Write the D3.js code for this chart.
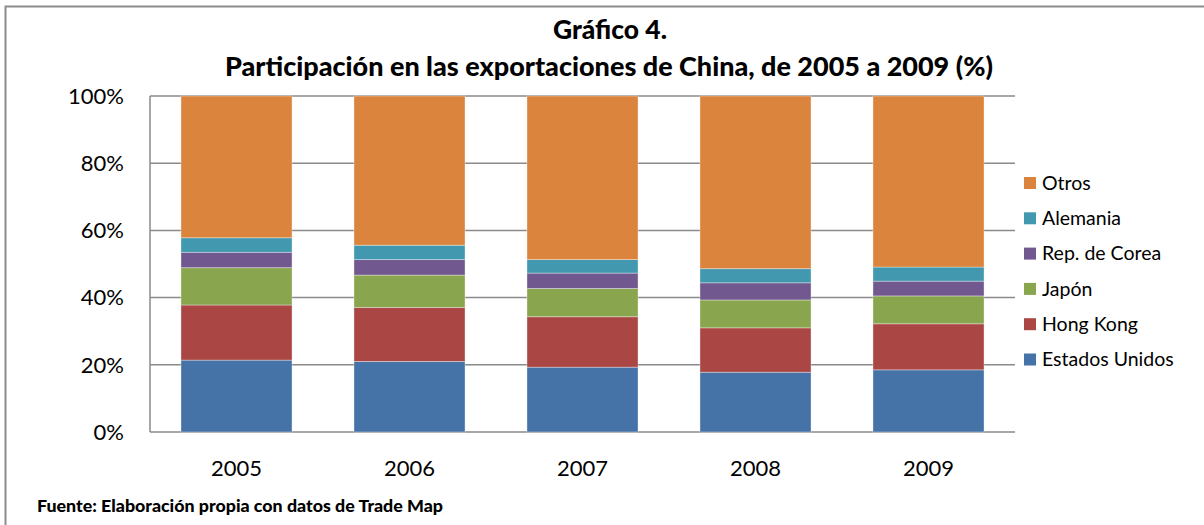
<!DOCTYPE html>
<html>
<head>
<meta charset="utf-8">
<script src="https://cdn.jsdelivr.net/npm/d3@7"></script>
<style>
  body { margin: 0; background: #fff; }
  svg text { font-family: Lato, "Open Sans", sans-serif; fill: #000; }
</style>
</head>
<body>
<script>
// data (% share of China's exports)
const years = ["2005", "2006", "2007", "2008", "2009"];
const seriesNames = ["Estados Unidos", "Hong Kong", "Japón", "Rep. de Corea", "Alemania", "Otros"];
const estadosUnidos = [21.4, 21.0, 19.3, 17.8, 18.5];
const hongKong = [16.4, 16.1, 15.0, 13.2, 13.7];
const japon = [11.1, 9.6, 8.4, 8.3, 8.3];
const repCorea = [4.6, 4.6, 4.6, 5.1, 4.4];
const alemania = [4.3, 4.3, 4.0, 4.2, 4.2];
const otros = [42.2, 44.4, 48.7, 51.4, 50.9];
const yTicks = [0, 20, 40, 60, 80, 100];
const colors = ["#4572A7", "#AA4643", "#89A54E", "#71588F", "#4198AF", "#DB843D"];

document.addEventListener("DOMContentLoaded", function () {
  const width = 1204, height = 525;
  const margin = { left: 150, right: 189, top: 96, bottom: 93 };

  const svg = d3.select("body").append("svg")
    .attr("width", width)
    .attr("height", height);

  // outer chart border (only top + left show in the crop)
  svg.append("path")
    .attr("d", "M5.5,530 L5.5,6.5 L1210,6.5")
    .attr("fill", "none")
    .attr("stroke", "#8c8c8c")
    .attr("stroke-width", 2);

  const allSeries = [estadosUnidos, hongKong, japon, repCorea, alemania, otros];
  const rows = years.map((y, i) => {
    const r = { year: y };
    seriesNames.forEach((s, j) => r[s] = allSeries[j][i]);
    return r;
  });
  const stacked = d3.stack().keys(seriesNames)
    .offset(d3.stackOffsetExpand)(rows);

  const x = d3.scaleBand()
    .domain(years)
    .range([margin.left, width - margin.right])
    .paddingInner(0.358)
    .paddingOuter(0.179);

  const y = d3.scaleLinear()
    .domain([0, 1])
    .range([height - margin.bottom, margin.top]);

  // gridlines
  svg.append("g")
    .selectAll("line")
    .data(yTicks)
    .join("line")
    .attr("x1", margin.left)
    .attr("x2", width - margin.right)
    .attr("y1", d => y(d / 100))
    .attr("y2", d => y(d / 100))
    .attr("stroke", "#8a8a8a")
    .attr("stroke-width", 1.5);

  svg.append("line")
    .attr("x1", margin.left).attr("x2", margin.left)
    .attr("y1", y(0)).attr("y2", y(1))
    .attr("stroke", "#8a8a8a")
    .attr("stroke-width", 1.5);

  // bars
  svg.append("g")
    .selectAll("g")
    .data(stacked)
    .join("g")
    .attr("fill", (d, i) => colors[i])
    .selectAll("rect")
    .data(d => d)
    .join("rect")
    .attr("x", d => x(d.data.year))
    .attr("width", x.bandwidth())
    .attr("y", d => y(d[1]))
    .attr("height", d => y(d[0]) - y(d[1]))
    .attr("stroke", "rgba(255,255,255,0.45)")
    .attr("stroke-width", 0.8);

  // y labels
  svg.append("g")
    .selectAll("text")
    .data(yTicks)
    .join("text")
    .attr("x", 124)
    .attr("y", d => y(d / 100))
    .attr("dy", "0.35em")
    .attr("text-anchor", "end")
    .attr("font-size", 22)
    .text(d => d + "%");

  // x labels
  svg.append("g")
    .selectAll("text")
    .data(years)
    .join("text")
    .attr("x", d => x(d) + x.bandwidth() / 2)
    .attr("y", 476)
    .attr("text-anchor", "middle")
    .attr("font-size", 22)
    .text(d => d);

  // titles
  svg.append("text")
    .attr("x", 610).attr("y", 39)
    .attr("text-anchor", "middle")
    .attr("font-size", 26)
    .attr("font-weight", 900)
    .attr("textLength", 114)
    .attr("lengthAdjust", "spacingAndGlyphs")
    .text("Gráfico 4.");

  svg.append("text")
    .attr("x", 609).attr("y", 76)
    .attr("text-anchor", "middle")
    .attr("font-size", 26)
    .attr("font-weight", 900)
    .attr("textLength", 768)
    .attr("lengthAdjust", "spacingAndGlyphs")
    .text("Participación en las exportaciones de China, de 2005 a 2009 (%)");

  // legend, top to bottom reversed
  const legend = svg.append("g")
    .selectAll("g")
    .data(seriesNames.slice().reverse())
    .join("g")
    .attr("transform", (d, i) => `translate(1024,${183 + i * 35.3})`);

  legend.append("rect")
    .attr("x", 0).attr("y", -6)
    .attr("width", 12).attr("height", 12)
    .attr("fill", d => colors[seriesNames.indexOf(d)]);

  legend.append("text")
    .attr("x", 18)
    .attr("dy", "0.35em")
    .attr("font-size", 19.5)
    .text(d => d);

  // source note
  svg.append("text")
    .attr("x", 37).attr("y", 512)
    .attr("font-size", 16)
    .attr("font-weight", 900)
    .attr("textLength", 406)
    .attr("lengthAdjust", "spacingAndGlyphs")
    .text("Fuente: Elaboración propia con datos de Trade Map");
});
</script>
</body>
</html>
